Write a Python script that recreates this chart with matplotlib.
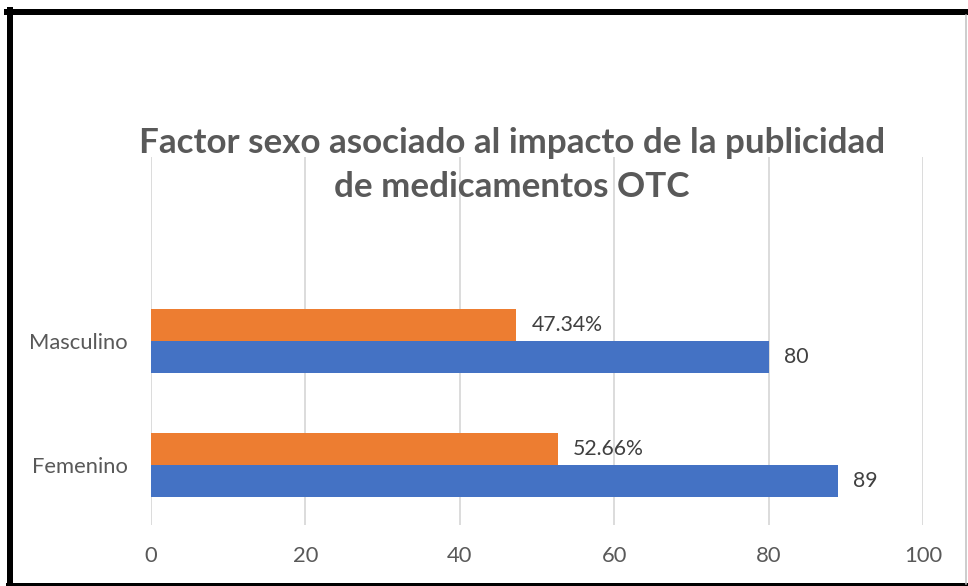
# Factor sexo - horizontal bar chart (Excel style)
import matplotlib.pyplot as plt
from matplotlib.lines import Line2D
import numpy as np

# --- data ---
categories = ['Femenino', 'Masculino']
counts = [89, 80]              # blue series
percents = [52.66, 47.34]      # orange series
count_labels = ['89', '80']
percent_labels = ['52.66%', '47.34%']
x_ticks = [0, 20, 40, 60, 80, 100]

title = 'Factor sexo asociado al impacto de la publicidad\nde medicamentos OTC'

plt.rcParams['font.family'] = ['Lato', 'DejaVu Sans']

W, H = 968, 586
fig = plt.figure(figsize=(W / 100, H / 100), dpi=100)
ax = fig.add_axes([151 / W, 61 / H, (923 - 151) / W, (525 - 157) / H])

y = np.arange(len(categories))
h = 0.258
blue = '#4472C4'
orange = '#ED7D31'

ax.barh(y - h / 2, counts, height=h, color=blue, zorder=3)
ax.barh(y + h / 2, percents, height=h, color=orange, zorder=3)

# data labels
for yi, v, lab in zip(y, counts, count_labels):
    ax.annotate(lab, (v, yi - h / 2), xytext=(11, 0), textcoords='offset points',
                va='center', ha='left', fontsize=15.3, color='#404040')
for yi, v, lab in zip(y, percents, percent_labels):
    ax.annotate(lab, (v, yi + h / 2), xytext=(11, 0), textcoords='offset points',
                va='center', ha='left', fontsize=15.3, color='#404040')

ax.set_xlim(0, 100)
ax.set_ylim(-0.484, 2.484)
ax.set_xticks(x_ticks)
ax.set_yticks(y)
ax.set_yticklabels(categories)
ax.tick_params(length=0, labelsize=15.8, labelcolor='#595959')
ax.tick_params(axis='x', pad=15)
ax.tick_params(axis='y', pad=17)
ax.grid(axis='x', color='#D9D9D9', linewidth=1.3, zorder=0)
for s in ax.spines.values():
    s.set_visible(False)

fig.text(512 / W, 1 - 165 / H, title, ha='center', va='center', fontsize=25.2,
         fontweight='bold', color='#595959', linespacing=1.45)

# outer frame
px = lambda v: v * 72 / 100
fig.add_artist(Line2D([10 / W, 10 / W], [0, 1 - 10 / H], color='black', lw=px(6)))
fig.add_artist(Line2D([7 / W, 1], [1 - 12 / H, 1 - 12 / H], color='black', lw=px(6)))
fig.add_artist(Line2D([7 / W, 1], [2 / H, 2 / H], color='black', lw=px(3)))
fig.add_artist(Line2D([966 / W, 966 / W], [2 / H, 1 - 15 / H], color='#BFBFBF', lw=px(1.5)))

fig.savefig('out.png', dpi=100)
